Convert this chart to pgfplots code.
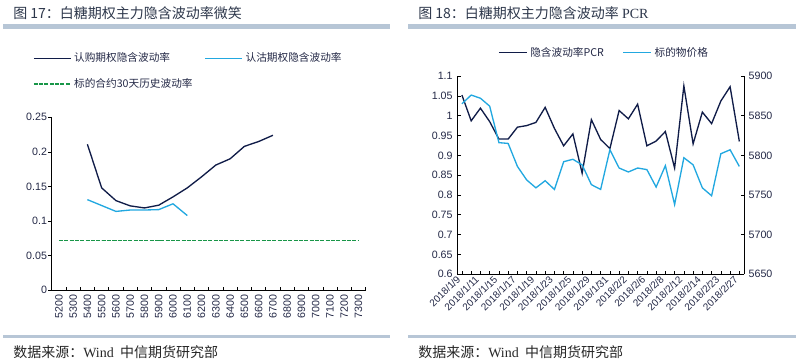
\documentclass[border=0pt]{standalone}
\usepackage{pgfplots}
\usepackage{pgfplotstable}
\pgfplotsset{compat=1.18}
\usepackage{fontspec}
\setmainfont{Liberation Sans}
\newfontfamily\cjk{Noto Sans CJK SC}
\newfontfamily\tms{Liberation Serif}
\definecolor{navy}{RGB}{16,28,72}
\definecolor{lblue}{RGB}{34,168,224}
\definecolor{hgreen}{RGB}{24,150,72}
\definecolor{barc}{RGB}{183,198,214}
\definecolor{labelc}{RGB}{35,40,70}
\definecolor{titlec}{RGB}{45,55,75}

\pgfplotstableread{
idx pcr price
0 1.052 5865
1 0.987 5876
2 1.019 5872
3 0.985 5862
4 0.941 5816
5 0.941 5815
6 0.971 5786
7 0.975 5769
8 0.983 5759
9 1.021 5768
10 0.968 5757
11 0.924 5792
12 0.954 5795
13 0.855 5788
14 0.990 5763
15 0.940 5757
16 0.917 5807
17 1.013 5784
18 0.992 5779
19 1.029 5784
20 0.924 5782
21 0.936 5760
22 0.960 5787
23 0.868 5738
24 1.075 5797
25 0.929 5788
26 1.009 5759
27 0.980 5749
28 1.037 5802
29 1.073 5807
30 0.935 5786
}\pcrdata

\pgfplotstableread{
idx call
2 0.211
3 0.148
4 0.1296
5 0.122
6 0.119
7 0.123
8 0.135
9 0.148
10 0.164
11 0.181
12 0.190
13 0.208
14 0.215
15 0.224
}\calldata

\pgfplotstableread{
idx put
2 0.131
3 0.1225
4 0.114
5 0.116
6 0.116
7 0.1166
8 0.125
9 0.108
}\putdata

\pgfplotstableread{
idx hv
0 0.0718
1 0.0718
2 0.0718
3 0.0718
4 0.0718
5 0.0718
6 0.0718
7 0.0718
8 0.0718
9 0.0718
10 0.0718
11 0.0718
12 0.0718
13 0.0718
14 0.0718
15 0.0718
16 0.0718
17 0.0718
18 0.0718
19 0.0718
20 0.0718
21 0.0718
}\hvdata

\begin{document}
\begin{tikzpicture}
\useasboundingbox (0pt,0pt) rectangle (597pt,270pt);

% titles and bars
\node[anchor=west, text=titlec, font=\cjk\fontsize{10.5}{12}\selectfont, inner sep=0pt] at (9.75pt,260.25pt) {图 17：白糖期权主力隐含波动率微笑};
\node[anchor=west, text=titlec, font=\cjk\fontsize{10.5}{12}\selectfont, inner sep=0pt] at (313.5pt,260.25pt) {图 18：白糖期权主力隐含波动率 {\tms PCR}};
\fill[barc] (2.25pt,248.5pt) rectangle (292.5pt,252pt);
\fill[barc] (306pt,248.5pt) rectangle (597pt,252pt);
\fill[barc] (2.25pt,16.5pt) rectangle (292.5pt,18.9pt);
\fill[barc] (306pt,16.5pt) rectangle (597pt,18.9pt);
\node[anchor=west, text=black!85, font=\cjk\fontsize{10.5}{12}\selectfont, inner sep=0pt] at (9.75pt,6pt) {数据来源：{\tms Wind}\ \ 中信期货研究部};
\node[anchor=west, text=black!85, font=\cjk\fontsize{10.5}{12}\selectfont, inner sep=0pt] at (313.5pt,6pt) {数据来源：{\tms Wind}\ \ 中信期货研究部};

% left chart
\begin{axis}[
  at={(38.78pt,52.28pt)}, anchor=south west,
  scale only axis, width=235.5pt, height=129.75pt,
  axis x line*=bottom, axis y line*=left,
  axis line style={-, black, line width=0.6pt},
  xmin=-0.5, xmax=21.5, ymin=0, ymax=0.25,
  xtick={0,...,21},
  xticklabels={5200,5300,5400,5500,5600,5700,5800,5900,6000,6100,6200,6300,6400,6500,6600,6700,6800,6900,7000,7100,7200,7300},
  minor xtick={0.5,1.5,...,21.5},
  every major x tick/.append style={draw=none},
  every minor x tick/.append style={black, line width=0.5pt},
  every major y tick/.append style={black, line width=0.5pt, xshift=-2.5pt},
  tick align=inside,
  major tick length=2.5pt, minor tick length=2.5pt,
  ytick={0,0.05,0.1,0.15,0.2,0.25},
  yticklabel style={/pgf/number format/fixed, /pgf/number format/precision=2},
  /pgf/number format/assume math mode=true,
  tick label style={font=\fontsize{8}{9}\selectfont, text=labelc},
  x tick label style={rotate=90, anchor=east},
  legend columns=2,
  legend style={at={(-0.06,1.39)}, anchor=north west, draw=none, fill=none,
    font=\cjk\fontsize{8}{9}\selectfont, text=labelc, row sep=7pt, inner sep=0pt,
    /tikz/every even column/.append style={column sep=7pt}},
  legend cell align=left,
  legend image code/.code={\draw[#1] (0pt,0pt) -- (27.75pt,0pt);},
  clip=false,
]
\addplot[navy, line width=1pt] table[x=idx,y=call] {\calldata};
\addlegendentry{认购期权隐含波动率}
\addplot[lblue, line width=1pt] table[x=idx,y=put] {\putdata};
\addlegendentry{认沽期权隐含波动率}
\addplot[hgreen, line width=1pt, dash pattern=on 3pt off 1pt] table[x=idx,y=hv] {\hvdata};
\addlegendentry{标的合约30天历史波动率}
\end{axis}

% right chart, left axis
\begin{axis}[
  at={(342.98pt,64.28pt)}, anchor=south west,
  scale only axis, width=215pt, height=148.7pt,
  axis x line*=bottom, axis y line*=left,
  axis line style={-, black, line width=0.6pt},
  xmin=-0.5, xmax=30.5, ymin=0.6, ymax=1.1,
  xtick={0,...,30},
  xticklabels={2018/1/9,,2018/1/11,,2018/1/15,,2018/1/17,,2018/1/19,,2018/1/23,,2018/1/25,,2018/1/29,,2018/1/31,,2018/2/2,,2018/2/6,,2018/2/8,,2018/2/12,,2018/2/14,,2018/2/23,,2018/2/27},
  ytick={0.6,0.65,0.7,0.75,0.8,0.85,0.9,0.95,1,1.05,1.1},
  yticklabel style={/pgf/number format/fixed, /pgf/number format/precision=2},
  /pgf/number format/assume math mode=true,
  tick align=inside, major tick length=2.5pt,
  every major tick/.append style={black, line width=0.5pt},
  tick label style={font=\fontsize{8}{9}\selectfont, text=labelc},
  x tick label style={rotate=45, anchor=east, font=\fontsize{7.5}{9}\selectfont},
  clip=false,
]
\addplot[navy, line width=1pt] table[x=idx,y=pcr] {\pcrdata};
\end{axis}

% right chart, right axis
\begin{axis}[
  at={(342.98pt,64.28pt)}, anchor=south west,
  scale only axis, width=215pt, height=148.7pt,
  axis x line=none, axis y line*=right,
  axis line style={-, black, line width=0.6pt},
  xmin=-0.5, xmax=30.5, ymin=5650, ymax=5900,
  ytick={5650,5700,5750,5800,5850,5900},
  /pgf/number format/assume math mode=true,
  yticklabel style={/pgf/number format/fixed, /pgf/number format/set thousands separator={}},
  tick align=inside, major tick length=2.5pt,
  every major tick/.append style={black, line width=0.5pt},
  tick label style={font=\fontsize{8}{9}\selectfont, text=labelc},
  legend columns=2,
  legend style={at={(0.142,1.161)}, anchor=north west, draw=none, fill=none,
    font=\cjk\fontsize{8}{9}\selectfont, text=labelc, inner sep=0pt,
    /tikz/every even column/.append style={column sep=12pt}},
  legend cell align=left,
  legend image code/.code={\draw[#1] (0pt,0pt) -- (21pt,0pt);},
  clip=false,
]
\addlegendimage{navy, line width=1pt}
\addlegendentry{隐含波动率PCR}
\addplot[lblue, line width=1pt] table[x=idx,y=price] {\pcrdata};
\addlegendentry{标的物价格}
\end{axis}
\end{tikzpicture}
\end{document}
